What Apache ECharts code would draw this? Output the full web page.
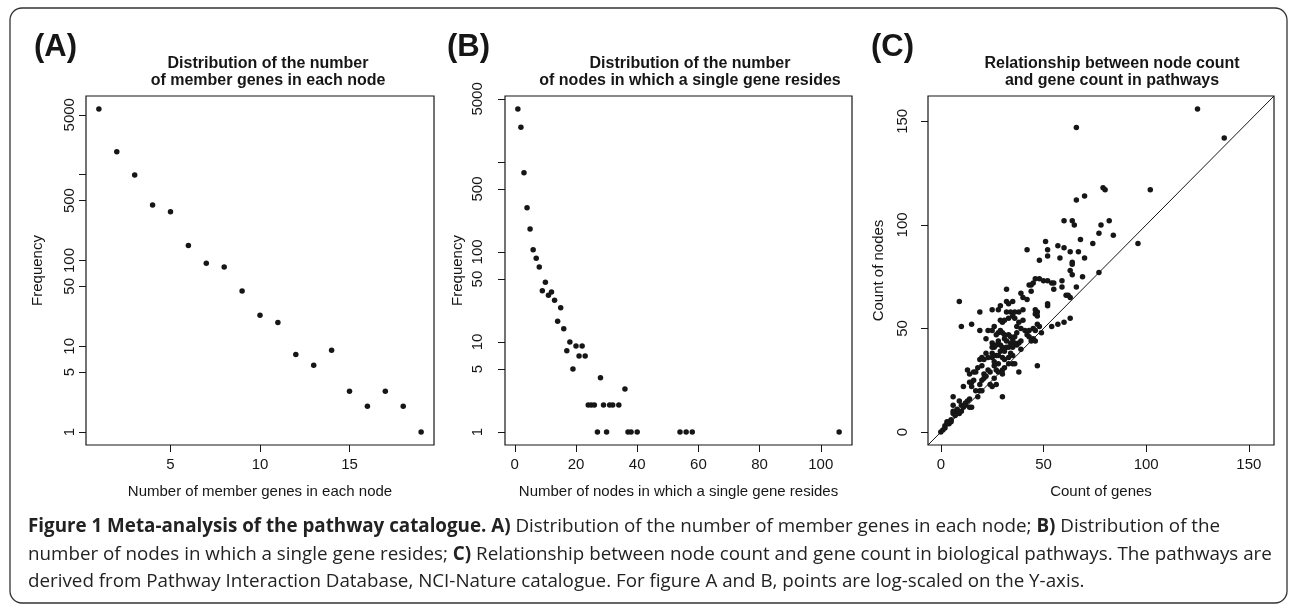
<!DOCTYPE html>
<html><head><meta charset="utf-8">
<script src="https://cdn.jsdelivr.net/npm/echarts@6/dist/echarts.min.js"></script>
<style>html,body{margin:0;padding:0;background:#fff}#c{width:1290px;height:606px}</style>
</head><body><div id="c"></div>
<script>
// ---------- Panel A: members per node vs frequency ----------
const aGenesPerNode = [1,2,3,4,5,6,7,8,9,10,11,12,13,14,15,16,17,18,19];
const aFrequency    = [5850,1850,990,443,371,150,93,84,44,23,19,8,6,9,3,2,3,2,1];
// ---------- Panel B: nodes per gene vs frequency ----------
const bNodesPerGene = [1,2,3,4,5,6,7,8,9,10,11,12,13,14,15,16,17,18,19,20,21,22,23,24,25,26,27,28,29,30,31,32,34,36,37,38,40,54,56,58,106];
const bFrequency    = [3870,2420,757,310,180,106,85,68,37,46,33,36,29,17,24,14,8,10,5,9,7,9,7,2,2,2,1,4,2,1,2,2,2,3,1,1,1,1,1,1,1];
// ---------- Panel C: gene count vs node count per pathway ----------
const cGenes = [125,138,66,102,79,80,66,70,60,64,65,78,82,77,84,51,57,60,68,74,52,42,96,63,67,48,52,58,70,64,64,63,64,69,77,
  46,48,50,52,54,55,59,43,44,45,55,59,66,44,39,40,42,32,61,62,63,9,32,33,35,52,52,29,25,28,32,34,36,38,40,46,47,46,47,19,
  35,36,63,54,57,60,10,15,19,23,25,26,29,30,31,33,38,40,37,39,41,43,45,46,47,48,49,42,43,44,45,46,22,25,25,26,28,27,
  31,31,29,30,32,33,35,34,35,37,39,38,37,39,19,20,21,25,25,27,28,30,31,34,35,35,33,36,31,30,30,26,23,24,27,21,21,
  13,14,16,17,14,15,15,11,17,19,20,19,24,25,27,38,47,30,18,6,6,9,10,11,12,8,7,8,6,6,14,14,15,3,4,2,5,0,1,2,3,5,4,
  27,28,29,30,33,36,32,34,36,29,31,22,23,33,26,28,20,18,16,22,26,28,12,13,10,9,7,20];
const cNodes = [156,142,147,117,118,117,112,114,102,102,100,100,102,96,95,92,90,89,93,91,88,88,91,87,87,83,85,84,84,82,81,78,76,75,77,
  74,74,73,73,72,72,73,71,71,72,69,70,70,68,67,65,64,69,66,66,65,63,63,62,63,62,61,61,59,59,58,58,58,58,59,59,58,57,56,58,
  56,55,55,51,52,53,51,52,49,49,49,51,54,53,54,55,53,54,51,50,49,49,50,49,52,51,48,47,46,44,45,44,45,43,41,41,44,42,
  47,45,42,41,41,41,41,46,45,48,44,43,42,40,35,36,35,38,36,37,37,36,35,38,37,33,33,33,31,30,28,32,30,29,30,28,26,
  30,28,29,29,24,24,22,22,20,20,20,23,23,22,23,29,32,17,17,17,13,15,13,12,13,11,10,9,10,9,16,12,12,5,4,3,6,0,1,2,4,5,5,
  47,48,49,48,47,46,44,43,43,39,39,38,36,36,34,33,32,31,25,27,26,29,14,15,10,9,8,25];
// ---------- tick values ----------
const aXTicks = [5,10,15];
const bXTicks = [0,20,40,60,80,100];
const logTicks  = [1,5,10,50,100,500,1000,5000];
const logLabels = [1,5,10,50,100,500,5000];
const cTicks = [0,50,100,150];

const F = '"Liberation Sans", Arial, Helvetica, sans-serif';
const CF = '"Open Sans", sans-serif';
const INK = '#161616';

// R-style 4% axis extension
function rRange(lo, hi){ const d=(hi-lo)*0.04; return [lo-d, hi+d]; }
function rLogRange(lo, hi){ const a=Math.log10(lo), b=Math.log10(hi), d=(b-a)*0.04; return [Math.pow(10,a-d), Math.pow(10,b+d)]; }

const aX = rRange(Math.min(...aGenesPerNode), Math.max(...aGenesPerNode));
const aY = rLogRange(Math.min(...aFrequency), Math.max(...aFrequency));
const bX = rRange(Math.min(...bNodesPerGene), Math.max(...bNodesPerGene));
const bY = rLogRange(Math.min(...bFrequency), Math.max(...bFrequency));
const cR = rRange(0, Math.max(...cGenes, ...cNodes));

function xAx(gi, range, ticks, name){
  return {type:'value', gridIndex:gi, min:range[0], max:range[1],
    name:name, nameLocation:'middle', nameGap:39,
    nameTextStyle:{fontSize:15, color:INK, fontFamily:F},
    axisLine:{show:false, onZero:false}, splitLine:{show:false},
    axisTick:{show:true, inside:false, length:7, customValues:ticks, lineStyle:{color:INK,width:1}},
    axisLabel:{show:true, customValues:ticks, fontSize:15, color:INK, fontFamily:F, margin:12, formatter:v=>String(v)}};
}
function yAx(gi, type, range, ticks, labels, name, lm, ng){
  return {type:type, logBase:10, gridIndex:gi, min:range[0], max:range[1],
    name:name, nameLocation:'middle', nameGap:ng, nameRotate:90,
    nameTextStyle:{fontSize:15, color:INK, fontFamily:F},
    axisLine:{show:false, onZero:false}, splitLine:{show:false},
    axisTick:{show:true, inside:false, length:7, customValues:ticks, lineStyle:{color:INK,width:1}},
    axisLabel:{show:true, customValues:labels, rotate:90, fontSize:15, color:INK, fontFamily:F, margin:lm, hideOverlap:false, formatter:v=>String(v)}};
}
const pts = (xs, ys) => xs.map((x,i)=>[x, ys[i]]);
const dot = {type:'scatter', symbol:'circle', symbolSize:5.5, itemStyle:{color:INK, opacity:1}, silent:true};

const chart = echarts.init(document.getElementById('c'), null, {renderer:'canvas'});
const gridBase = {show:true, borderColor:INK, borderWidth:1.2, backgroundColor:'transparent', containLabel:false};
const capRich = {b:{fontWeight:'bold', fontSize:18.8, fontFamily:CF, fill:'#222'}};
chart.setOption({
  animation:false,
  backgroundColor:'#fff',
  grid:[
    Object.assign({left:86, top:96, width:348, height:349}, gridBase),
    Object.assign({left:505, top:96, width:347, height:349}, gridBase),
    Object.assign({left:928, top:96, width:346, height:349}, gridBase)
  ],
  xAxis:[
    xAx(0, aX, aXTicks, 'Number of member genes in each node'),
    xAx(1, bX, bXTicks, 'Number of nodes in which a single gene resides'),
    xAx(2, cR, cTicks, 'Count of genes')
  ],
  yAxis:[
    yAx(0, 'log', aY, logTicks, logLabels, 'Frequency', 9, 41),
    yAx(1, 'log', bY, logTicks, logLabels, 'Frequency', 20, 40),
    yAx(2, 'value', cR, cTicks, cTicks, 'Count of nodes', 18, 42)
  ],
  series:[
    Object.assign({xAxisIndex:0, yAxisIndex:0, data:pts(aGenesPerNode, aFrequency)}, dot),
    Object.assign({xAxisIndex:1, yAxisIndex:1, data:pts(bNodesPerGene, bFrequency)}, dot),
    Object.assign({xAxisIndex:2, yAxisIndex:2, data:pts(cGenes, cNodes)}, dot),
    {type:'line', xAxisIndex:2, yAxisIndex:2, data:[[cR[0],cR[0]],[cR[1],cR[1]]], symbol:'none', silent:true,
     lineStyle:{color:INK, width:1}, clip:true}
  ],
  graphic:[
    {type:'rect', shape:{x:10, y:8, width:1277, height:595, r:12}, style:{fill:'none', stroke:'#333', lineWidth:1.3}, silent:true},
    {type:'text', x:34, y:47, style:{text:'(A)', font:'bold 31px '+F, fill:INK, textVerticalAlign:'middle'}},
    {type:'text', x:447, y:47, style:{text:'(B)', font:'bold 31px '+F, fill:INK, textVerticalAlign:'middle'}},
    {type:'text', x:871, y:47, style:{text:'(C)', font:'bold 31px '+F, fill:INK, textVerticalAlign:'middle'}},
    {type:'text', x:268, y:72, style:{text:'Distribution of the number\nof member genes in each node', font:'bold 16px '+F, lineHeight:17, fill:INK, textAlign:'center', textVerticalAlign:'middle'}},
    {type:'text', x:690, y:72, style:{text:'Distribution of the number\nof nodes in which a single gene resides', font:'bold 16px '+F, lineHeight:17, fill:INK, textAlign:'center', textVerticalAlign:'middle'}},
    {type:'text', x:1112, y:72, style:{text:'Relationship between node count\nand gene count in pathways', font:'bold 16px '+F, lineHeight:17, fill:INK, textAlign:'center', textVerticalAlign:'middle'}},
    {type:'text', x:28, y:527, style:{
      text:'{b|Figure 1 Meta-analysis of the pathway catalogue. A)} Distribution of the number of member genes in each node; {b|B)} Distribution of the',
      font:'18.8px '+CF, fill:'#222', textVerticalAlign:'middle', rich:capRich}},
    {type:'text', x:28, y:555, style:{
      text:'number of nodes in which a single gene resides; {b|C)} Relationship between node count and gene count in biological pathways. The pathways are',
      font:'18.8px '+CF, fill:'#222', textVerticalAlign:'middle', rich:capRich}},
    {type:'text', x:28, y:582, style:{
      text:'derived from Pathway Interaction Database, NCI-Nature catalogue. For figure A and B, points are log-scaled on the Y-axis.',
      font:'18.8px '+CF, fill:'#222', textVerticalAlign:'middle'}}
  ]
});
</script></body></html>
